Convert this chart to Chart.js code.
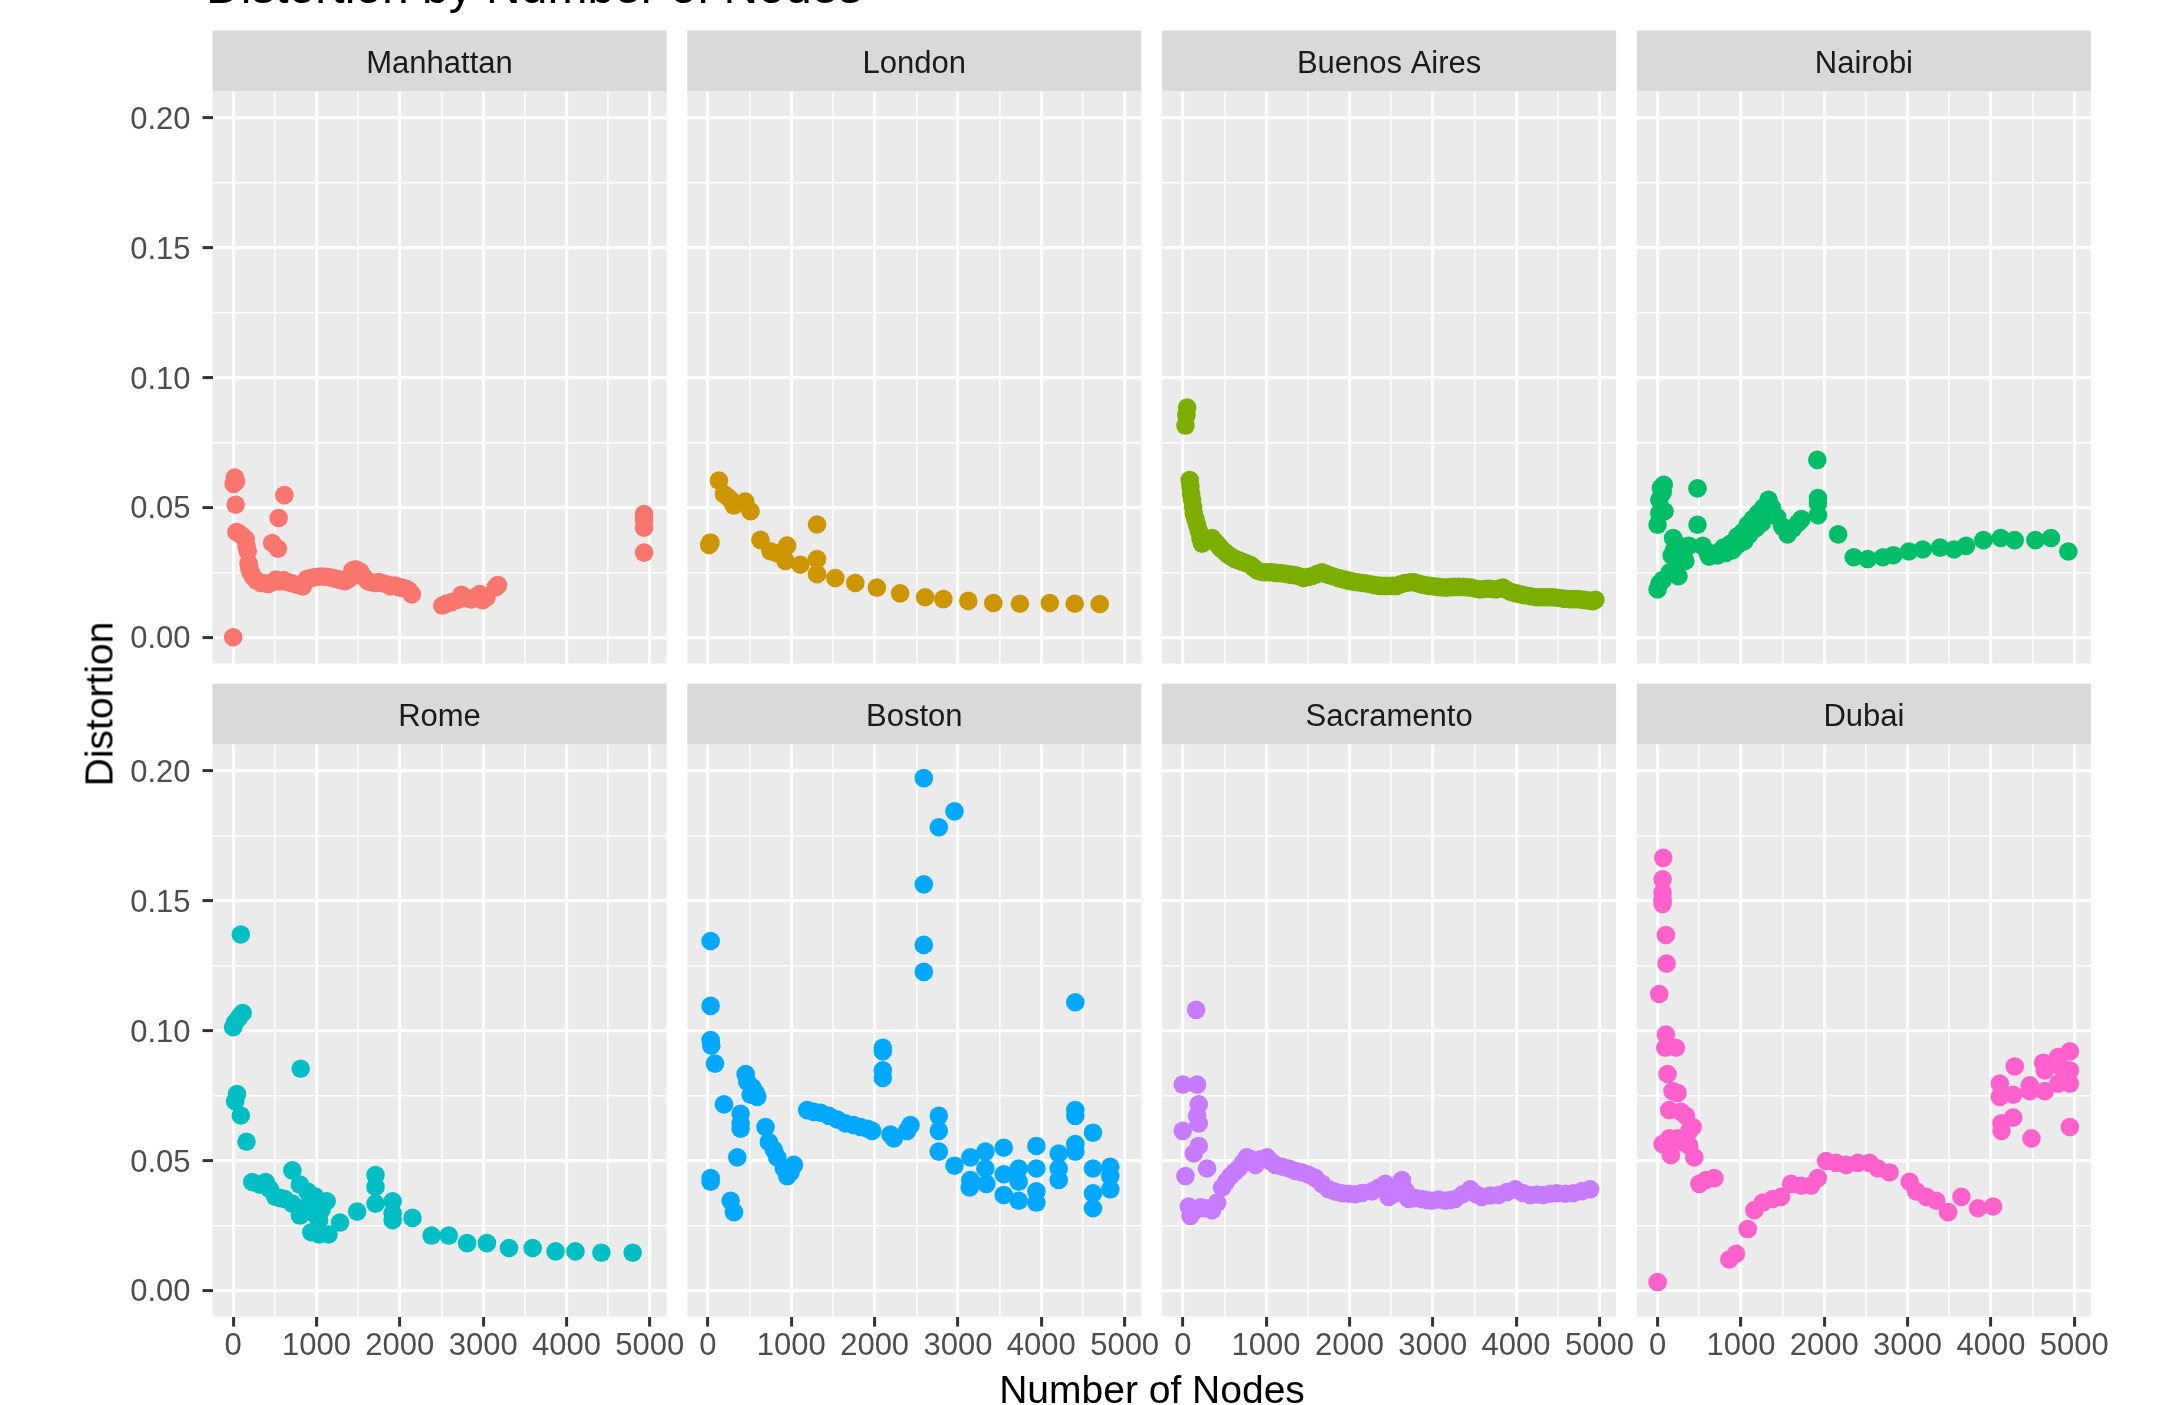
<!DOCTYPE html>
<html>
<head>
<meta charset="utf-8">
<title>Distortion by Number of Nodes</title>
<script src="https://cdn.jsdelivr.net/npm/chart.js@4.4.1/dist/chart.umd.min.js"></script>
<style>
  html, body { margin: 0; padding: 0; background: #ffffff; }
  #wrap { position: relative; width: 2164px; height: 1405px; overflow: hidden; background: #ffffff; }
  #wrap canvas { position: absolute; left: 0; top: 0; }
  .label { position: absolute; font-family: "Liberation Sans", Arial, Helvetica, sans-serif; color: #000000; white-space: nowrap; line-height: 1; z-index: 5; }
  #mainTitle { left: 206px; top: -37px; font-size: 48px; }
  #xTitle { left: 1152px; top: 1370px; font-size: 39px; transform: translateX(-50%); }
  #yTitle { left: 99px; top: 704px; font-size: 39px; transform: translate(-50%, -50%) rotate(-90deg); }
</style>
</head>
<body>
<div id="wrap">
  <div class="label" id="mainTitle">Distortion by Number of Nodes</div>
  <div class="label" id="xTitle">Number of Nodes</div>
  <div class="label" id="yTitle">Distortion</div>
</div>
<script>
// ---- facets and colours ----
const CITIES = ['Manhattan', 'London', 'Buenos Aires', 'Nairobi', 'Rome', 'Boston', 'Sacramento', 'Dubai'];
const COLORS = ['#F8766D', '#CD9600', '#7CAE00', '#00BE67', '#00BFC4', '#00A9FF', '#C77CFF', '#FF61CC'];

// ---- axis breaks ----
const X_BREAKS = [0, 1000, 2000, 3000, 4000, 5000];
const X_MINOR = [500, 1500, 2500, 3500, 4500];
const Y_BREAKS = [0, 0.05, 0.10, 0.15, 0.20];
const Y_LABELS = ['0.00', '0.05', '0.10', '0.15', '0.20'];
const Y_MINOR = [0.025, 0.075, 0.125, 0.175];

// ---- [number of nodes, distortion] per city ----
const manhattan = [[0,0.000],[5,0.059],[20,0.0615],[35,0.060],[30,0.051],[40,0.0405],[70,0.0400],[110,0.0390],[150,0.0378],[160,0.0350],[175,0.0330],[185,0.0285],[195,0.0265],[210,0.0250],[240,0.0232],[280,0.0218],[331,0.0209],[380,0.0208],[422,0.0205],[470,0.0212],[514,0.0222],[560,0.0215],[606,0.0220],[650,0.0213],[698,0.0209],[760,0.0202],[836,0.0196],[882,0.0224],[930,0.0228],[973,0.0231],[1020,0.0233],[1065,0.0234],[1110,0.0233],[1157,0.0231],[1200,0.0228],[1249,0.0224],[1295,0.0220],[1341,0.0216],[1390,0.0225],[1432,0.0258],[1470,0.0262],[1524,0.0253],[1480,0.0240],[1570,0.0231],[1616,0.0216],[1660,0.0212],[1708,0.0209],[1750,0.0213],[1800,0.0208],[1850,0.0203],[1892,0.0196],[1940,0.0199],[1983,0.0194],[2030,0.0190],[2075,0.0187],[2110,0.0180],[2144,0.0165],[468,0.0363],[537,0.0341],[546,0.0459],[615,0.0547],[2510,0.0122],[2560,0.0130],[2620,0.0135],[2700,0.0145],[2740,0.0163],[2810,0.0150],[2860,0.0146],[2910,0.0156],[2960,0.0166],[2993,0.0143],[3040,0.0153],[3150,0.0192],[3177,0.0201],[4931,0.0474],[4931,0.0451],[4931,0.0422],[4931,0.0326]];

const london = [[15,0.0355],[30,0.0365],[132,0.0603],[192,0.0551],[240,0.0540],[271,0.0529],[311,0.0507],[447,0.0522],[511,0.0485],[630,0.0375],[750,0.0331],[830,0.0324],[950,0.0353],[930,0.0294],[1109,0.0279],[1309,0.0434],[1309,0.0301],[1309,0.0243],[1528,0.0228],[1768,0.0209],[2027,0.0191],[2306,0.0169],[2606,0.0154],[2825,0.0147],[3124,0.0140],[3424,0.0132],[3743,0.0129],[4102,0.0132],[4401,0.0129],[4701,0.0128]];

const buenosAires = [[52,0.0884],[44,0.0855],[32,0.0815],[84,0.0605],[92,0.0580],[100,0.0551],[112,0.0529],[124,0.0502],[132,0.0477],[152,0.0455],[172,0.0433],[192,0.0411],[212,0.0382],[231,0.0360],[261,0.0368],[291,0.0374],[321,0.0378],[351,0.0382],[381,0.0370],[411,0.0360],[441,0.0348],[471,0.0338],[511,0.0327],[551,0.0316],[590,0.0308],[630,0.0301],[670,0.0296],[710,0.0291],[760,0.0285],[810,0.0279],[850,0.0268],[890,0.0257],[930,0.0253],[970,0.0250],[1020,0.0250],[1069,0.0250],[1119,0.0248],[1169,0.0247],[1219,0.0245],[1269,0.0242],[1319,0.0240],[1369,0.0238],[1409,0.0233],[1449,0.0228],[1499,0.0232],[1548,0.0235],[1608,0.0243],[1668,0.0250],[1718,0.0244],[1768,0.0238],[1818,0.0233],[1867,0.0228],[1917,0.0224],[1967,0.0220],[2017,0.0216],[2067,0.0213],[2117,0.0211],[2167,0.0209],[2217,0.0206],[2267,0.0203],[2317,0.0200],[2366,0.0198],[2416,0.0198],[2466,0.0198],[2516,0.0198],[2566,0.0198],[2616,0.0204],[2666,0.0209],[2716,0.0211],[2765,0.0213],[2815,0.0208],[2865,0.0203],[2915,0.0200],[2965,0.0198],[3015,0.0196],[3065,0.0194],[3115,0.0192],[3164,0.0191],[3214,0.0193],[3264,0.0194],[3314,0.0194],[3364,0.0194],[3414,0.0192],[3464,0.0191],[3514,0.0187],[3563,0.0184],[3613,0.0186],[3663,0.0188],[3713,0.0186],[3763,0.0184],[3803,0.0188],[3843,0.0191],[3883,0.0183],[3923,0.0176],[3963,0.0172],[4002,0.0169],[4052,0.0165],[4102,0.0162],[4172,0.0158],[4242,0.0154],[4292,0.0154],[4342,0.0154],[4392,0.0154],[4441,0.0154],[4491,0.0152],[4541,0.0150],[4591,0.0148],[4641,0.0147],[4691,0.0147],[4741,0.0147],[4781,0.0145],[4820,0.0144],[4870,0.0141],[4920,0.0139],[4952,0.0144]];

const nairobi = [[0,0.0184],[21,0.0206],[60,0.0220],[146,0.0250],[250,0.0235],[208,0.0308],[187,0.0382],[229,0.0360],[200,0.0338],[170,0.0315],[250,0.0285],[333,0.0294],[21,0.0529],[62,0.0558],[75,0.0587],[40,0.0575],[83,0.0485],[21,0.0477],[0,0.0433],[479,0.0573],[479,0.0433],[375,0.0352],[541,0.0352],[603,0.0323],[686,0.0323],[790,0.0345],[874,0.0360],[957,0.0389],[1019,0.0404],[1082,0.0433],[1144,0.0455],[1206,0.0477],[1269,0.0499],[1331,0.0529],[1373,0.0499],[1435,0.0463],[1497,0.0426],[1560,0.0396],[1622,0.0418],[1685,0.0440],[1726,0.0455],[620,0.0310],[720,0.0315],[820,0.0325],[900,0.0335],[960,0.0355],[1040,0.0370],[1100,0.0395],[1180,0.0420],[1250,0.0440],[1300,0.0465],[1917,0.0683],[1925,0.0536],[1925,0.0515],[1925,0.0470],[2167,0.0396],[2354,0.0308],[2521,0.0301],[2704,0.0308],[2829,0.0316],[3016,0.0330],[3182,0.0338],[3390,0.0345],[3557,0.0338],[3702,0.0352],[3910,0.0374],[4118,0.0382],[4285,0.0374],[4534,0.0374],[4721,0.0382],[4929,0.0330]];

const rome = [[92,0.1370],[0,0.1013],[23,0.1031],[69,0.1050],[114,0.1068],[46,0.0756],[23,0.0728],[92,0.0673],[160,0.0572],[229,0.0417],[320,0.0407],[389,0.0417],[440,0.0390],[504,0.0361],[560,0.0356],[618,0.0352],[710,0.0462],[710,0.0334],[801,0.0407],[810,0.0853],[801,0.0288],[893,0.0380],[984,0.0361],[893,0.0325],[961,0.0297],[939,0.0224],[1030,0.0215],[1122,0.0343],[1145,0.0215],[1030,0.0270],[1060,0.0310],[1282,0.0261],[1488,0.0303],[1708,0.0444],[1708,0.0398],[1708,0.0334],[1914,0.0343],[1914,0.0297],[1914,0.0270],[2152,0.0279],[2381,0.0211],[2587,0.0211],[2807,0.0182],[3045,0.0182],[3310,0.0163],[3594,0.0163],[3869,0.0150],[4107,0.0150],[4419,0.0145],[4794,0.0145]];

const boston = [[2590,0.1972],[2958,0.1844],[2770,0.1783],[2590,0.1563],[32,0.1345],[2590,0.1330],[2590,0.1226],[32,0.1095],[4408,0.1109],[32,0.0964],[40,0.0942],[84,0.0873],[2098,0.0934],[2098,0.0920],[2098,0.0847],[2098,0.0818],[192,0.0716],[452,0.0833],[472,0.0803],[532,0.0782],[572,0.0760],[592,0.0745],[512,0.0753],[392,0.0680],[392,0.0643],[392,0.0622],[691,0.0629],[731,0.0571],[791,0.0541],[831,0.0512],[911,0.0469],[991,0.0454],[1031,0.0483],[951,0.0440],[32,0.0432],[32,0.0418],[352,0.0512],[272,0.0345],[312,0.0301],[1191,0.0694],[1271,0.0687],[1351,0.0684],[1451,0.0672],[1551,0.0658],[1651,0.0643],[1751,0.0636],[1831,0.0629],[1911,0.0622],[1970,0.0614],[2190,0.0600],[2230,0.0585],[2390,0.0614],[2430,0.0636],[2770,0.0672],[2770,0.0614],[2770,0.0534],[2958,0.0480],[3149,0.0512],[3149,0.0425],[3141,0.0396],[3329,0.0534],[3329,0.0469],[3341,0.0410],[3549,0.0549],[3549,0.0447],[3549,0.0367],[3729,0.0469],[3729,0.0418],[3729,0.0345],[3941,0.0556],[3941,0.0469],[3941,0.0381],[3941,0.0338],[4209,0.0527],[4209,0.0469],[4209,0.0425],[4408,0.0694],[4408,0.0672],[4408,0.0563],[4408,0.0534],[4620,0.0607],[4620,0.0469],[4620,0.0374],[4620,0.0316],[4828,0.0476],[4828,0.0440],[4828,0.0389]];

const sacramento = [[160,0.1080],[0,0.0792],[172,0.0792],[192,0.0716],[172,0.0672],[192,0.0643],[0,0.0614],[192,0.0556],[132,0.0527],[292,0.0469],[32,0.0440],[72,0.0323],[92,0.0287],[152,0.0309],[212,0.0320],[272,0.0316],[352,0.0309],[412,0.0338],[472,0.0396],[520,0.0418],[572,0.0440],[620,0.0455],[671,0.0469],[720,0.0490],[771,0.0512],[820,0.0505],[871,0.0483],[940,0.0505],[1011,0.0512],[1060,0.0495],[1111,0.0483],[1190,0.0476],[1271,0.0469],[1350,0.0460],[1431,0.0454],[1510,0.0445],[1591,0.0432],[1670,0.0410],[1751,0.0389],[1830,0.0380],[1911,0.0374],[1990,0.0372],[2070,0.0370],[2150,0.0375],[2270,0.0381],[2350,0.0395],[2430,0.0410],[2470,0.0360],[2550,0.0372],[2630,0.0425],[2670,0.0385],[2710,0.0352],[2790,0.0355],[2870,0.0352],[2930,0.0348],[2990,0.0345],[3070,0.0350],[3149,0.0345],[3210,0.0348],[3269,0.0352],[3360,0.0370],[3449,0.0389],[3520,0.0370],[3589,0.0360],[3690,0.0365],[3789,0.0367],[3890,0.0378],[3989,0.0389],[4080,0.0375],[4169,0.0367],[4250,0.0369],[4328,0.0367],[4410,0.0372],[4488,0.0374],[4590,0.0372],[4688,0.0374],[4790,0.0382],[4888,0.0389]];

const dubai = [[0,0.0032],[68,0.1665],[60,0.1582],[60,0.1531],[60,0.1502],[60,0.1488],[100,0.1368],[108,0.1258],[20,0.1141],[100,0.0985],[92,0.0934],[220,0.0934],[120,0.0833],[180,0.0767],[240,0.0760],[140,0.0694],[280,0.0687],[341,0.0672],[421,0.0629],[381,0.0614],[60,0.0563],[140,0.0585],[240,0.0585],[300,0.0571],[160,0.0520],[381,0.0556],[441,0.0512],[501,0.0410],[581,0.0425],[681,0.0432],[861,0.0119],[942,0.0141],[1082,0.0236],[1162,0.0309],[1262,0.0338],[1382,0.0352],[1482,0.0360],[1603,0.0410],[1723,0.0403],[1843,0.0403],[1923,0.0432],[2023,0.0498],[2143,0.0491],[2264,0.0483],[2404,0.0491],[2544,0.0491],[2644,0.0469],[2784,0.0454],[3025,0.0418],[3105,0.0381],[3225,0.0360],[3345,0.0345],[3486,0.0301],[3646,0.0360],[3846,0.0316],[4026,0.0323],[4107,0.0796],[4107,0.0745],[4287,0.0862],[4267,0.0753],[4127,0.0643],[4127,0.0614],[4267,0.0665],[4487,0.0585],[4467,0.0767],[4627,0.0876],[4647,0.0847],[4647,0.0767],[4808,0.0898],[4808,0.0796],[4948,0.0920],[4948,0.0847],[4948,0.0796],[4948,0.0629],[4828,0.0862],[4467,0.0789]];

const SERIES = [manhattan, london, buenosAires, nairobi, rome, boston, sacramento, dubai];

// ---- page geometry (px) ----
const W = 2164, H = 1405;
const PANEL_LEFT = 212.5, COL_STEP = 474.8, PANEL_W = 454;
const STRIP_TOP = 30.5, ROW_STEP = 653.1, STRIP_H = 61, PANEL_H = 572;
const Y_AXIS_W = 150;   // room kept for the y tick labels on the left column
const X_AXIS_H = 70;    // room kept for the x tick labels on the bottom row
const X_MIN = -248, X_MAX = 5200;
const Y_MIN = -0.0101, Y_MAX = 0.2101;

const FONT = '"Liberation Sans", Arial, Helvetica, sans-serif';

const near = (a, b) => Math.abs(a - b) < 1e-9;
const isXMajor = v => X_BREAKS.some(b => near(b, v));
const isYMajor = v => Y_BREAKS.some(b => near(b, v));
const X_GRID = [...X_BREAKS, ...X_MINOR].sort((a, b) => a - b);
const Y_GRID = [...Y_BREAKS, ...Y_MINOR].sort((a, b) => a - b);

// grey strip behind the facet title and the panel background
const facetBackground = {
  id: 'facetBackground',
  beforeDraw(chart) {
    const { ctx, chartArea, titleBlock } = chart;
    ctx.save();
    if (titleBlock) {
      ctx.fillStyle = '#D9D9D9';
      ctx.fillRect(chartArea.left, titleBlock.top, chartArea.right - chartArea.left, titleBlock.height);
    }
    ctx.fillStyle = '#EBEBEB';
    ctx.fillRect(chartArea.left, chartArea.top, chartArea.right - chartArea.left, chartArea.bottom - chartArea.top);
    ctx.restore();
  }
};

const wrap = document.getElementById('wrap');

function makePanel(i) {
  const row = Math.floor(i / 4), col = i % 4;
  const left = PANEL_LEFT + col * COL_STEP;
  const top = STRIP_TOP + row * ROW_STEP;
  const showY = col === 0;
  const showX = row === 1;
  const yW = showY ? Y_AXIS_W : 0;
  const xH = showX ? X_AXIS_H : 0;

  const canvas = document.createElement('canvas');
  canvas.width = W;
  canvas.height = H;
  wrap.insertBefore(canvas, wrap.firstChild);

  const tickFont = { family: FONT, size: 31, weight: 'normal', lineHeight: 1.2 };

  return new Chart(canvas, {
    type: 'scatter',
    data: {
      datasets: [{
        label: CITIES[i],
        data: SERIES[i].map(([x, y]) => ({ x, y })),
        pointRadius: 9.3,
        pointHoverRadius: 9.3,
        pointBorderWidth: 0,
        pointBackgroundColor: COLORS[i],
        backgroundColor: COLORS[i],
        borderColor: COLORS[i]
      }]
    },
    options: {
      responsive: false,
      animation: false,
      devicePixelRatio: 1,
      events: [],
      layout: {
        padding: {
          left: left - yW,
          top: top,
          right: W - left - PANEL_W,
          bottom: H - top - STRIP_H - PANEL_H - xH
        }
      },
      plugins: {
        legend: { display: false },
        tooltip: { enabled: false },
        title: {
          display: true,
          fullSize: false,
          text: CITIES[i],
          color: '#1A1A1A',
          font: { family: FONT, size: 31, weight: 'normal', lineHeight: 1.2 },
          padding: { top: 15.4, bottom: 8.4 }
        }
      },
      scales: {
        x: {
          type: 'linear',
          position: 'bottom',
          min: X_MIN,
          max: X_MAX,
          afterBuildTicks: s => { s.ticks = X_GRID.map(v => ({ value: v })); },
          afterFit: s => { s.height = xH; },
          border: { display: false },
          grid: {
            color: '#FFFFFF',
            lineWidth: c => (c.tick && isXMajor(c.tick.value)) ? 3.2 : 1.6,
            drawTicks: showX,
            tickLength: 10,
            tickWidth: 3,
            tickColor: c => (c.tick && isXMajor(c.tick.value)) ? '#333333' : 'rgba(0,0,0,0)'
          },
          ticks: {
            display: showX,
            autoSkip: false,
            maxRotation: 0,
            minRotation: 0,
            padding: 1,
            color: '#4D4D4D',
            font: tickFont,
            callback: v => isXMajor(v) ? String(X_BREAKS.find(b => near(b, v))) : ''
          }
        },
        y: {
          type: 'linear',
          position: 'left',
          min: Y_MIN,
          max: Y_MAX,
          afterBuildTicks: s => { s.ticks = Y_GRID.map(v => ({ value: v })); },
          afterFit: s => { s.width = yW; },
          border: { display: false },
          grid: {
            color: '#FFFFFF',
            lineWidth: c => (c.tick && isYMajor(c.tick.value)) ? 3.2 : 1.6,
            drawTicks: showY,
            tickLength: 10,
            tickWidth: 3,
            tickColor: c => (c.tick && isYMajor(c.tick.value)) ? '#333333' : 'rgba(0,0,0,0)'
          },
          ticks: {
            display: showY,
            autoSkip: false,
            padding: 12,
            labelOffset: 2.5,
            color: '#4D4D4D',
            font: tickFont,
            callback: v => {
              const k = Y_BREAKS.findIndex(b => near(b, v));
              return k >= 0 ? Y_LABELS[k] : '';
            }
          }
        }
      }
    },
    plugins: [facetBackground]
  });
}

CITIES.forEach((_, i) => makePanel(i));
</script>
</body>
</html>
